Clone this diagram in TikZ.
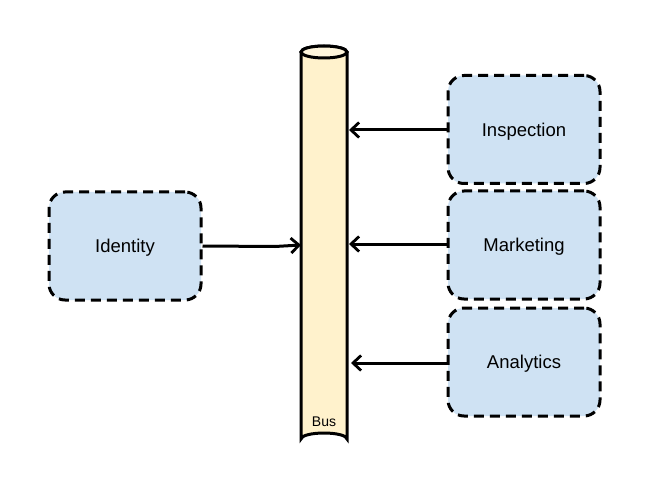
\documentclass[tikz,border=0pt]{standalone}
\usepackage{fontspec}
\setmainfont{Liberation Sans}
\usetikzlibrary{arrows.meta}
\definecolor{boxfill}{HTML}{CFE2F3}
\definecolor{busfill}{HTML}{FFF2CC}
\definecolor{bustop}{HTML}{FFF6DC}
\begin{document}
\begin{tikzpicture}[x=1pt,y=-1pt,
  svc/.style={draw=black, fill=boxfill, line width=3pt, dash pattern=on 10pt off 6pt,
    rounded corners=16pt, minimum width=152pt, minimum height=108pt, inner sep=0pt,
    text depth=0pt, font=\fontsize{18.5}{22}\selectfont},
  conn/.style={line width=3pt, -{Straight Barb[length=8pt,width=15pt,line width=2.8pt]}}]
\useasboundingbox (0,0) rectangle (652,486);
% Bus cylinder
\draw[line width=3pt, fill=busfill] (301,52) -- (301,439) arc[start angle=180,end angle=360,x radius=23,y radius=6] -- (347,52) arc[start angle=0,end angle=-180,x radius=23,y radius=6] -- cycle;
\draw[line width=3pt, fill=bustop] (324,52) ellipse[x radius=23,y radius=6];
\node[font=\fontsize{14}{16}\selectfont] (buslabel) at (324,422) {Bus};
\coordinate (busL) at (301,245);
\coordinate (busR1) at (349,130);
\coordinate (busR2) at (349,244);
\coordinate (busR3) at (351,363);
% services
\node[svc] (identity) at (125,246) {Identity};
\node[svc] (inspection) at (524,129.5) {Inspection};
\node[svc] (marketing) at (524,245) {Marketing};
\node[svc] (analytics) at (524,362) {Analytics};
% connectors
\draw[conn] (identity.east) -- (275,246.5) -- (busL);
\draw[conn] (inspection.west |- busR1) -- (busR1);
\draw[conn] (marketing.west |- busR2) -- (busR2);
\draw[conn] (analytics.west |- busR3) -- (busR3);
\end{tikzpicture}
\end{document}
